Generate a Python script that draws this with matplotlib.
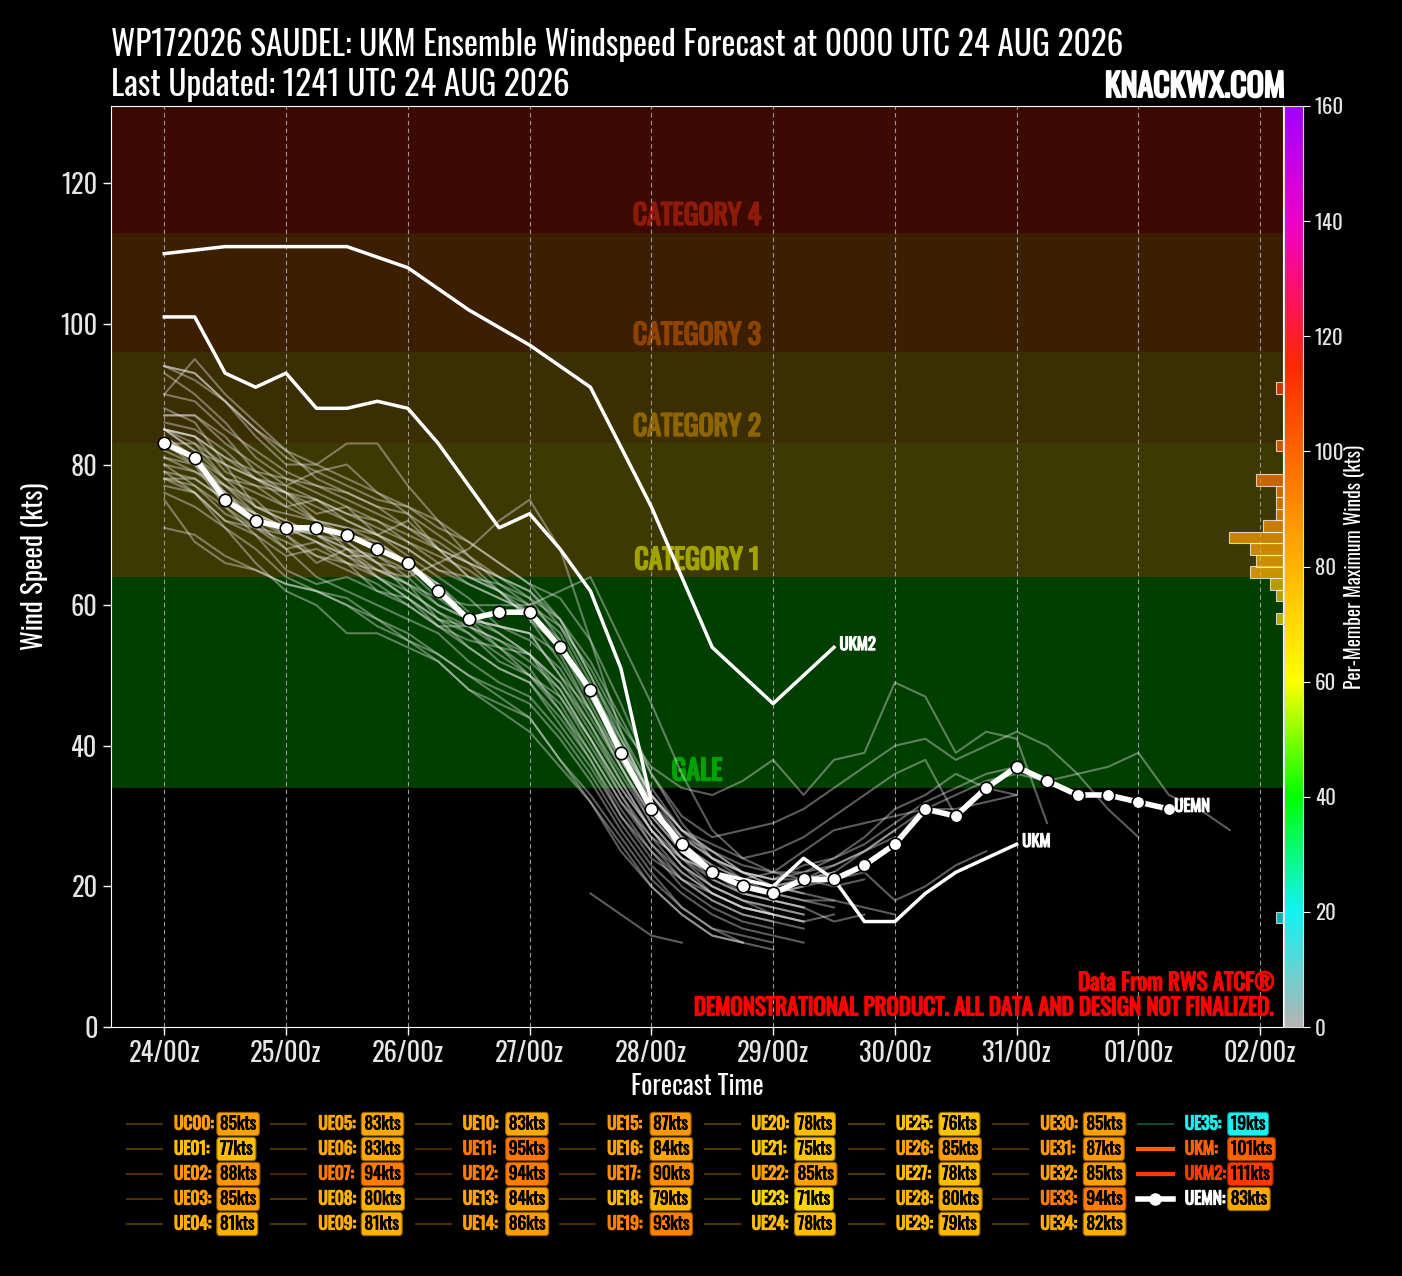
import numpy as np
import matplotlib
matplotlib.use("Agg")
import matplotlib.pyplot as plt
from matplotlib import font_manager
import matplotlib.patheffects as pe
from matplotlib.colors import LinearSegmentedColormap, Normalize
from matplotlib.lines import Line2D
import matplotlib.cm as cm

plt.rcParams['font.family'] = ['Oswald', 'DejaVu Sans']
font_names = {f.name for f in font_manager.fontManager.ttflist}
light_family = ['Oswald Light', 'Oswald', 'DejaVu Sans'] if 'Oswald Light' in font_names else ['Oswald', 'DejaVu Sans']


def bold(color, w=1.1):
    # the installed Oswald has a single weight, so thicken with a stroke
    return [pe.withStroke(linewidth=w, foreground=color)]


# ---- data (winds in kts, 6-hourly steps starting 24/00z) ----
tick_hours = [0, 24, 48, 72, 96, 120, 144, 168, 192, 216]
tick_labels = ["24/00z", "25/00z", "26/00z", "27/00z", "28/00z",
               "29/00z", "30/00z", "31/00z", "01/00z", "02/00z"]

uc00 = [85, 84, 79, 77, 74, 75, 72, 70, 67, 64, 61, 57, 56, 53, 45, 37, 29, 24, 22, 19, 18, 17, 15, 16]
ue01 = [77, 76, 72, 71, 68, 69, 66, 62, 61, 58, 54, 51, 49, 44, 38, 30, 24, 21, 18, 16, 15, 14]
ue02 = [88, 86, 80, 78, 76, 73, 74, 70, 72, 68, 64, 63, 61, 58, 50, 41, 33, 27, 25, 22, 21, 23, 24, 27,
        31, 33, 36, 34, 33]
ue03 = [85, 82, 80, 74, 73, 72, 68, 66, 63, 58, 56, 52, 50, 47, 40, 33, 27, 22, 19, 17, 16, 15]
ue04 = [81, 79, 77, 75, 71, 70, 69, 66, 65, 63, 58, 57, 56, 50, 45, 38, 31, 26, 23, 21, 20, 21, 23, 25,
        28, 31, 33, 35, 36, 35, 36, 37, 39, 33, 31, 28]
ue05 = [83, 83, 80, 78, 77, 79, 80, 76, 73, 68, 64, 62, 60, 57, 49, 40, 32, 26, 23, 21, 20, 21, 22]
ue06 = [83, 80, 76, 72, 68, 64, 62, 60, 58, 56, 52, 49, 47, 42, 36, 29, 23, 19, 16, 14, 13, 12]
ue07 = [94, 92, 89, 84, 80, 80, 83, 83, 77, 72, 67, 64, 62, 58, 52, 44, 36, 29, 24, 21, 19, 18, 18, 17, 16]
ue08 = [80, 77, 73, 71, 70, 66, 68, 64, 61, 57, 57, 54, 50, 46, 39, 32, 27, 24, 22, 21, 22, 25, 28, 29,
        30, 31, 31, 32, 33]
ue09 = [81, 80, 74, 70, 65, 63, 64, 62, 60, 57, 54, 51, 49, 43, 37, 30, 25, 21, 19, 17, 16]
ue10 = [83, 81, 78, 77, 76, 75, 73, 72, 70, 68, 66, 62, 58, 54, 46, 38, 31, 26, 22, 20, 19, 20, 21, 22,
        18, 20, 23, 25]
ue11 = [90, 95, 90, 86, 82, 78, 76, 74, 73, 70, 67, 63, 60, 56, 48, 41, 33, 28, 25, 22, 20, 19, 18]
ue12 = [94, 93, 89, 85, 81, 79, 77, 75, 74, 71, 69, 66, 63, 61, 55, 46, 36, 30, 27, 28, 29, 31, 34, 37,
        40, 41, 38, 40, 42, 40, 36, 31, 27]
ue13 = [84, 81, 76, 72, 70, 67, 65, 63, 60, 57, 55, 54, 53, 48, 41, 33, 26, 21, 18, 16, 15]
ue14 = [86, 85, 82, 78, 76, 74, 72, 70, 68, 65, 64, 62, 59, 55, 47, 40, 33, 28, 25, 23, 22, 22, 24, 26,
        29, 32, 34, 36, 37, 35]
ue15 = [87, 87, 84, 79, 76, 72, 71, 69, 66, 63, 58, 56, 53, 49, 43, 35, 28, 23, 19, 17, 16, 15, 16]
ue16 = [84, 81, 77, 73, 71, 69, 67, 67, 64, 60, 58, 57, 55, 51, 44, 37, 30, 25, 22, 20, 19, 20, 22, 25, 28]
ue17 = [90, 89, 85, 82, 79, 77, 75, 73, 71, 69, 66, 64, 62, 57, 51, 43, 37, 34, 33, 35, 38, 33, 38, 39,
        49, 47, 39, 42, 41, 29]
ue18 = [79, 76, 71, 68, 64, 62, 61, 58, 56, 53, 50, 47, 44, 38, 32, 25, 20, 16, 13, 12, 11]
ue19 = [93, 90, 86, 81, 78, 77, 76, 74, 71, 68, 66, 64, 61, 55, 47, 39, 31, 27, 24, 22, 21, 22, 23, 25, 27]
ue20 = [78, 76, 72, 70, 67, 68, 66, 64, 62, 59, 56, 53, 50, 45, 39, 32, 26, 22, 19, 17, 16, 15]
ue21 = [75, 69, 66, 65, 63, 62, 60, 57, 55, 52, 48, 45, 42, 37, 32, 26, 20, 16, 13, 12]
ue22 = [85, 84, 81, 78, 75, 72, 71, 70, 68, 65, 63, 61, 59, 54, 48, 40, 33, 28, 26, 24, 25, 27, 30, 33,
        36, 38, 30]
ue23 = [71, 70, 67, 65, 63, 62, 60, 58, 55, 53, 50, 48, 46, 41, 35, 28, 22, 17, 14, 12]
ue24 = [78, 77, 74, 71, 69, 67, 66, 65, 64, 66, 68, 72, 75, 68, 55, 42, 32, 25, 21, 19, 18, 17]
ue25 = [76, 74, 71, 66, 62, 60, 56, 56, 54, 52, 48, 46, 44, 38, 33, 27, 21, 17, 14, 13, 12]
ue26 = [85, 84, 81, 79, 78, 76, 74, 72, 69, 67, 65, 62, 58, 52, 45, 37, 30, 25, 22, 20, 19, 18, 17]
ue27 = [78, 78, 75, 73, 70, 71, 69, 66, 62, 59, 57, 55, 52, 48, 41, 34, 28, 23, 20, 18, 17, 16]
ue28 = [80, 79, 76, 73, 71, 69, 67, 65, 63, 61, 60, 60, 60, 62, 64, 55, 46, 36, 28, 24, 22, 21, 20, 21]
ue29 = [79, 78, 75, 73, 71, 70, 68, 67, 65, 61, 58, 54, 51, 45, 38, 31, 25, 20, 17, 15, 14]
ue30 = [85, 82, 78, 74, 72, 70, 68, 65, 63, 60, 58, 57, 56, 50, 43, 36, 29, 24, 20, 18, 16]
ue31 = [87, 87, 83, 80, 77, 75, 73, 71, 69, 66, 63, 61, 59, 54, 47, 39, 32, 27, 24, 22, 21, 21, 22]
ue32 = [85, 83, 78, 76, 74, 72, 70, 69, 66, 63, 59, 56, 53, 49, 42, 35, 28, 23, 20, 18, 17, 16]
ue33 = [94, 93, 89, 85, 82, 80, 78, 76, 74, 72, 69, 66, 63, 58, 50, 42, 34, 28, 24, 22, 20, 19]
ue34 = [82, 80, 77, 74, 72, 70, 67, 64, 61, 58, 57, 55, 53, 47, 41, 34, 28, 24, 21, 19, 18, 17]
ue35 = [19, 16, 13, 12]

members = [uc00, ue01, ue02, ue03, ue04, ue05, ue06, ue07, ue08, ue09, ue10, ue11,
           ue12, ue13, ue14, ue15, ue16, ue17, ue18, ue19, ue20, ue21, ue22, ue23,
           ue24, ue25, ue26, ue27, ue28, ue29, ue30, ue31, ue32, ue33, ue34, ue35]
member_start = [0] * 35 + [14]   # first 6-h step of each member

ukm = [101, 101, 93, 91, 93, 88, 88, 89, 88, 83, 77, 71, 73, 68, 62, 51, 32, 25, 22, 21, 20, 24, 21, 15,
       15, 19, 22, 24, 26]
ukm2_hours = [0, 12, 24, 36, 48, 60, 72, 84, 96, 108, 120, 132]
ukm2 = [110, 111, 111, 111, 108, 102, 97, 91, 74, 54, 46, 54]
uemn = [83, 81, 75, 72, 71, 71, 70, 68, 66, 62, 58, 59, 59, 54, 48, 39, 31, 26, 22, 20, 19, 21, 21, 23,
        26, 31, 30, 34, 37, 35, 33, 33, 32, 31]

legend_names = ["UC00", "UE01", "UE02", "UE03", "UE04", "UE05", "UE06", "UE07", "UE08", "UE09",
                "UE10", "UE11", "UE12", "UE13", "UE14", "UE15", "UE16", "UE17", "UE18", "UE19",
                "UE20", "UE21", "UE22", "UE23", "UE24", "UE25", "UE26", "UE27", "UE28", "UE29",
                "UE30", "UE31", "UE32", "UE33", "UE34", "UE35", "UKM", "UKM2", "UEMN"]
legend_max = [85, 77, 88, 85, 81, 83, 83, 94, 80, 81, 83, 95, 94, 84, 86, 87, 84, 90, 79, 93,
              78, 75, 85, 71, 78, 76, 85, 78, 80, 79, 85, 87, 85, 94, 82, 19, 101, 111, 83]

band_edges = [0, 34, 64, 83, 96, 113, 140]
band_colors = ['#000000', '#003f00', '#3c3902', '#3c2e03', '#3c1e03', '#3c0a03']
cat_names = ["GALE", "CATEGORY 1", "CATEGORY 2", "CATEGORY 3", "CATEGORY 4"]
cat_colors = ['#00a400', '#a3a300', '#8e6500', '#8e4300', '#8e1a08']

# ---- colormap ----
cmap = LinearSegmentedColormap.from_list("wind", [
    (0 / 160, '#b4b4b4'), (20 / 160, '#10f4f4'), (40 / 160, '#00ff00'),
    (60 / 160, '#ffff00'), (80 / 160, '#ffb400'), (100 / 160, '#ff6400'),
    (115 / 160, '#ff2800'), (125 / 160, '#ff1450'), (140 / 160, '#f000c8'),
    (160 / 160, '#a000ff')])
norm = Normalize(0, 160)

W, H = 1402, 1276
fig = plt.figure(figsize=(W / 100, H / 100), dpi=100, facecolor='black')
ax = fig.add_axes([111 / W, 1 - 1027 / H, 1172 / W, 921 / H])
ax.set_facecolor('black')

for i in range(len(band_colors)):
    ax.axhspan(band_edges[i], band_edges[i + 1], color=band_colors[i], lw=0, zorder=0)
for i, name in enumerate(cat_names):
    ax.text(0.5, band_edges[i + 1] + 2.3, name, transform=ax.get_yaxis_transform(),
            ha='center', va='center', fontsize=20, color=cat_colors[i], zorder=1,
            path_effects=bold(cat_colors[i], 1.3))

for h in tick_hours:
    ax.axvline(h, color='#9a9a9a', ls=(0, (4, 3)), lw=0.8, zorder=1)

for vals, st in zip(members, member_start):
    hrs = 6 * (st + np.arange(len(vals)))
    ax.plot(hrs, vals, color='#e8e8e8', alpha=0.4, lw=1.5, zorder=2)

ukm_hours = 6 * np.arange(len(ukm))
ax.plot(ukm_hours, ukm, color='white', lw=2.5, zorder=3)
ax.plot(ukm2_hours, ukm2, color='white', lw=2.5, zorder=3)
uemn_hours = 6 * np.arange(len(uemn))
ax.plot(uemn_hours, uemn, color='white', lw=4, marker='o', ms=9, mfc='white',
        mec='black', mew=1.2, zorder=4)

for name, hrs, vals in [("UKM2", ukm2_hours, ukm2), ("UKM", ukm_hours, ukm), ("UEMN", uemn_hours, uemn)]:
    ax.annotate(name, xy=(hrs[-1], vals[-1]), xytext=(4, 2), textcoords='offset points',
                color='white', fontsize=12, va='center', ha='left', zorder=5,
                path_effects=bold('white', 0.9))

ax.set_xlim(-10.5, 220.5)
ax.set_ylim(0, 131)
ax.set_xticks(tick_hours)
ax.set_xticklabels(tick_labels)
ax.set_yticks(range(0, 121, 20))
ax.tick_params(colors='white', labelcolor='#e6e6e6', labelsize=19, length=6, width=1)
for lab in ax.get_xticklabels() + ax.get_yticklabels():
    lab.set_family(light_family)
for s in ax.spines.values():
    s.set_color('white')
ax.set_xlabel("Forecast Time", color='white', fontsize=19, labelpad=4)
ax.set_ylabel("Wind Speed (kts)", color='white', fontsize=19.5, labelpad=8)

ax.text(0.993, 0.048, "Data From RWS ATCF®", transform=ax.transAxes, ha='right', va='center',
        color='#ff0000', fontsize=16.5, zorder=6, path_effects=bold('#ff0000'))
ax.text(0.993, 0.021, "DEMONSTRATIONAL PRODUCT. ALL DATA AND DESIGN NOT FINALIZED.",
        transform=ax.transAxes, ha='right', va='center', color='#ff0000', fontsize=16.5,
        zorder=6, path_effects=bold('#ff0000'))

# ---- histogram of member maxima (drawn on the colorbar scale) ----
axh = fig.add_axes(ax.get_position())
axh.set_facecolor('none')
axh.axis('off')
counts, edges = np.histogram(legend_max, bins=np.arange(0, 162, 2))
centers = edges[:-1] + 1
keep = counts > 0
axh.barh(centers[keep], counts[keep], height=2, left=0, color=cmap(norm(centers[keep])),
         alpha=0.72, edgecolor=(1, 1, 1, 0.35), lw=0.8)
axh.set_xlim(175, 0)
axh.set_ylim(0, 160)

# ---- colorbar ----
cax = fig.add_axes([1284 / W, 1 - 1027 / H, 19 / W, 921 / H])
cb = fig.colorbar(cm.ScalarMappable(norm=norm, cmap=cmap), cax=cax, ticks=range(0, 161, 20))
cb.outline.set_edgecolor('#dddddd')
cax.tick_params(colors='white', labelcolor='#e6e6e6', labelsize=15, length=5)
for lab in cax.get_yticklabels():
    lab.set_family(light_family)
cb.set_label("Per-Member Maximum Winds (kts)", color='white', fontsize=14, labelpad=0)

# ---- titles ----
fig.text(111 / W, 1 - 45 / H, "WP172026 SAUDEL: UKM Ensemble Windspeed Forecast at 0000 UTC 24 AUG 2026",
         color='white', fontsize=24, va='center', ha='left')
fig.text(111 / W, 1 - 85 / H, "Last Updated: 1241 UTC 24 AUG 2026",
         color='white', fontsize=24, va='center', ha='left')
fig.text(1285 / W, 1 - 87 / H, "KNACKWX.COM", color='white', fontsize=23,
         va='center', ha='right', path_effects=bold('white', 1.5))

# ---- custom legend ----
for k, (name, mx) in enumerate(zip(legend_names, legend_max)):
    col, row = divmod(k, 5)
    x0 = 127 + 144.4 * col
    fy = 1 - (1124 + 25 * row) / H
    c = cmap(norm(mx))
    if name == "UEMN":
        fig.add_artist(Line2D([x0 / W, (x0 + 35) / W], [fy, fy], color='white', lw=4))
        fig.add_artist(Line2D([(x0 + 17.5) / W], [fy], color='white', marker='o', ms=8, mec='white'))
        lab_color = 'white'
    elif name in ("UKM", "UKM2"):
        fig.add_artist(Line2D([x0 / W, (x0 + 35) / W], [fy, fy], color=c, lw=3))
        lab_color = c
    else:
        fig.add_artist(Line2D([x0 / W, (x0 + 35) / W], [fy, fy], color=c, lw=1.5, alpha=0.3))
        lab_color = c
    fig.text((x0 + 47) / W, fy, name + ":", color=lab_color, fontsize=12.5,
             va='center', ha='left', path_effects=bold(lab_color, 0.9))
    ec = tuple(v * 0.6 for v in c[:3])
    fig.text((x0 + 93) / W, fy, "%dkts" % mx, color='black', fontsize=12.5,
             va='center', ha='left', path_effects=bold('black', 0.6),
             bbox=dict(boxstyle='round,pad=0.18,rounding_size=0.2', fc=c, ec=ec, lw=0.8))

fig.savefig("out.png", dpi=100, facecolor='black')
